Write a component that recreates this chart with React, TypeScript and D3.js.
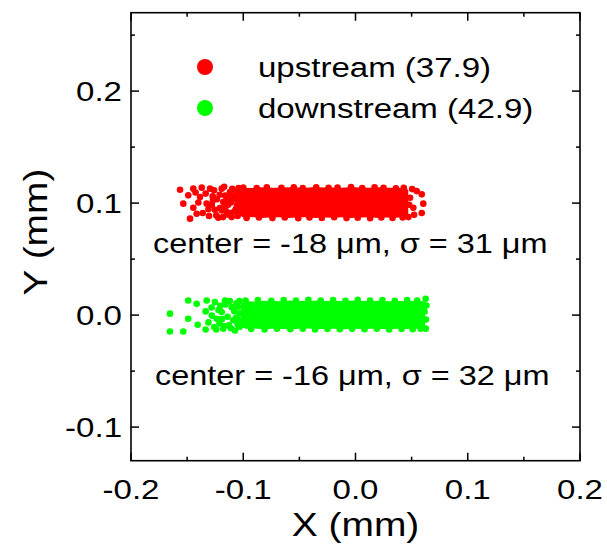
import * as d3 from "d3";

// ---- data (mm) ----
const xTicks = [-0.2, -0.1, 0.0, 0.1, 0.2];
const xMinor = [-0.15, -0.05, 0.05, 0.15];
const yTicks = [-0.1, 0.0, 0.1, 0.2];
const yMinor = [-0.05, 0.05, 0.15, 0.25];

const legendItems = ["upstream (37.9)", "downstream (42.9)"];
const notes = ["center = -18 \u03bcm, \u03c3 = 31 \u03bcm", "center = -16 \u03bcm, \u03c3 = 32 \u03bcm"];

// dense core of each cloud: outline
const upCoreX = [-0.104, -0.1, -0.092, -0.084, -0.076, -0.068, -0.06, -0.052, -0.044, -0.036, -0.028, -0.02, -0.012, -0.004, 0.004, 0.012, 0.02, 0.028, 0.036, 0.044, 0.047];
const upCoreTop = [0.1115, 0.1138, 0.1135, 0.1142, 0.1138, 0.1136, 0.1142, 0.114, 0.1137, 0.1143, 0.1139, 0.114, 0.1136, 0.1143, 0.1139, 0.1137, 0.1141, 0.1136, 0.1138, 0.1133, 0.112];
const upCoreBottom = [0.0895, 0.0872, 0.0875, 0.0868, 0.0872, 0.0874, 0.0867, 0.0871, 0.0873, 0.0866, 0.0871, 0.0869, 0.0874, 0.0867, 0.0871, 0.0873, 0.0868, 0.0872, 0.087, 0.0876, 0.0885];

const downCoreX = [-0.102, -0.098, -0.09, -0.082, -0.074, -0.066, -0.058, -0.05, -0.042, -0.034, -0.026, -0.018, -0.01, -0.002, 0.006, 0.014, 0.022, 0.03, 0.038, 0.046, 0.054, 0.062];
const downCoreTop = [0.0105, 0.0125, 0.0122, 0.0129, 0.0126, 0.0124, 0.013, 0.0127, 0.0125, 0.0131, 0.0127, 0.0128, 0.0124, 0.0131, 0.0127, 0.0125, 0.0129, 0.0124, 0.0127, 0.0125, 0.0128, 0.0124];
const downCoreBottom = [-0.0105, -0.0122, -0.0119, -0.0126, -0.0121, -0.0124, -0.0127, -0.0122, -0.012, -0.0126, -0.0123, -0.0121, -0.0126, -0.0122, -0.0125, -0.0121, -0.0124, -0.0127, -0.0122, -0.0124, -0.0121, -0.0123];

// individual points: sparse tails and the ragged edges
const upPoints: [number, number][] = [
  // left tail
  [-0.1563, 0.1119], [-0.1534, 0.0995], [-0.1474, 0.0861], [-0.149, 0.1069], [-0.1445, 0.1129],
  [-0.1445, 0.0959], [-0.1415, 0.0905], [-0.1385, 0.1054], [-0.137, 0.1138], [-0.1361, 0.0911],
  [-0.1326, 0.0995], [-0.1296, 0.1129], [-0.1272, 0.106], [-0.1252, 0.0941], [-0.1222, 0.087],
  [-0.1192, 0.1129], [-0.1178, 0.1009], [-0.1148, 0.092], [-0.1118, 0.1098], [-0.1103, 0.0875],
  [-0.1073, 0.1039], [-0.1065, 0.095], [-0.1305, 0.0885], [-0.1235, 0.1035], [-0.1208, 0.0955],
  [-0.1162, 0.1068], [-0.1135, 0.0985], [-0.1098, 0.1128], [-0.1122, 0.0912], [-0.1335, 0.1085],
  [-0.128, 0.0985], [-0.126, 0.1115], [-0.124, 0.089], [-0.121, 0.1075], [-0.119, 0.0935],
  [-0.117, 0.1145], [-0.115, 0.1025], [-0.113, 0.0895], [-0.111, 0.1005], [-0.109, 0.1065],
  [-0.108, 0.0925], [-0.106, 0.1105], [-0.112, 0.1045], [-0.118, 0.0875], [-0.127, 0.1025],
  [-0.131, 0.0945], [-0.116, 0.0965], [-0.14, 0.1005], [-0.1425, 0.1095],
  // left edge of the core
  [-0.105, 0.0885], [-0.1045, 0.0935], [-0.1055, 0.0985], [-0.104, 0.1035], [-0.1052, 0.1085], [-0.1042, 0.1135],
  // right tail
  [0.0545, 0.1107], [0.059, 0.1078], [0.0604, 0.0995], [0.059, 0.0911], [0.0515, 0.0959],
  [0.0486, 0.1048], [0.0471, 0.0875], [0.0505, 0.1125], [0.0522, 0.0895], [0.0478, 0.0985],
  // top edge
  [-0.1, 0.1138], [-0.088, 0.1135], [-0.079, 0.1141], [-0.066, 0.1136], [-0.055, 0.114],
  [-0.047, 0.1134], [-0.035, 0.1142], [-0.024, 0.1136], [-0.016, 0.1139], [-0.004, 0.1143],
  [0.006, 0.1134], [0.017, 0.114], [0.025, 0.1137], [0.036, 0.1133], [0.043, 0.1136],
  // bottom edge
  [-0.097, 0.0868], [-0.086, 0.0872], [-0.074, 0.0866], [-0.063, 0.0871], [-0.051, 0.0865],
  [-0.041, 0.0872], [-0.03, 0.0867], [-0.019, 0.0873], [-0.008, 0.0866], [0.002, 0.087],
  [0.013, 0.0865], [0.023, 0.0871], [0.033, 0.0867], [0.042, 0.0872],
];

const downPoints: [number, number][] = [
  // left tail
  [-0.1653, 0.0013], [-0.1653, -0.0146], [-0.149, 0.0131], [-0.149, -0.0032], [-0.1534, -0.0146],
  [-0.1415, 0.0102], [-0.1406, -0.0086], [-0.1326, 0.0131], [-0.1335, 0.0033], [-0.1335, -0.0128],
  [-0.1252, 0.0116], [-0.1237, -0.0032], [-0.1258, -0.0107], [-0.1163, 0.0131], [-0.1178, -0.0121],
  [-0.1103, 0.0071], [-0.1089, -0.0047], [-0.1073, -0.0137], [-0.1192, 0.0027], [-0.1282, 0.0068],
  [-0.1205, 0.0082], [-0.1128, -0.0092], [-0.1145, 0.0118], [-0.1212, -0.0075],
  [-0.128, -0.0005], [-0.122, 0.0045], [-0.119, -0.0035], [-0.116, 0.0095], [-0.114, -0.0015],
  [-0.112, 0.0125], [-0.111, -0.0118], [-0.108, 0.0035], [-0.106, 0.0105], [-0.105, -0.0085],
  [-0.117, -0.0098], [-0.124, -0.0128], [-0.131, -0.0065], [-0.1065, -0.0025],
  // left edge of the core
  [-0.1035, 0.0125], [-0.1045, 0.0075], [-0.103, 0.0015], [-0.1042, -0.0045], [-0.1032, -0.0105],
  // right end
  [0.0625, 0.0146], [0.0625, -0.0121], [0.0615, 0.003], [0.0628, -0.004], [0.0632, 0.0085],
  // top edge
  [-0.098, 0.013], [-0.087, 0.0134], [-0.075, 0.0128], [-0.064, 0.0135], [-0.053, 0.0129],
  [-0.042, 0.0136], [-0.031, 0.013], [-0.02, 0.0134], [-0.009, 0.0128], [0.002, 0.0136],
  [0.013, 0.0129], [0.024, 0.0134], [0.035, 0.0128], [0.046, 0.0135], [0.055, 0.013],
  // bottom edge
  [-0.093, -0.0124], [-0.081, -0.0128], [-0.07, -0.0122], [-0.058, -0.0127], [-0.047, -0.0121],
  [-0.036, -0.0128], [-0.025, -0.0123], [-0.014, -0.0127], [-0.003, -0.0121], [0.008, -0.0126],
  [0.019, -0.0122], [0.03, -0.0128], [0.041, -0.0123], [0.051, -0.0126], [0.058, -0.0121],
];

const RED = "#ff0000";
const GREEN = "#00ff00";
const FONT = "'Liberation Sans', Arial, sans-serif";
const SX = 1.18; // the original glyphs are a bit wider than Arial

const W = 607;
const H = 547;
const left = 131, right = 580, top = 12.7, bottom = 460.7;

const x = d3.scaleLinear().domain([-0.2, 0.2]).range([left, right]);
const y = d3.scaleLinear().domain([-0.13, 0.27]).range([bottom, top]);

function Txt({ x: tx, y: ty, size, anchor = "start", rotate = 0, children }: any) {
  return (
    <text
      transform={`translate(${tx},${ty}) rotate(${rotate}) scale(${SX},1)`}
      fontFamily={FONT}
      fontSize={size}
      textAnchor={anchor}
      fill="#000"
    >
      {children}
    </text>
  );
}

export default function App() {
  const coreArea = (xs: number[], t: number[], b: number[]) =>
    d3
      .area<number>()
      .x((_, i) => x(xs[i]))
      .y0((_, i) => y(b[i]))
      .y1((_, i) => y(t[i]))(xs) || "";

  const major = 8;
  const minor = 4;
  const r = 3.3;

  return (
    <svg width={W} height={H} style={{ position: "absolute", left: 0, top: 0, background: "#fff" }}>
      {/* clouds */}
      <path d={coreArea(upCoreX, upCoreTop, upCoreBottom)} fill={RED} />
      {upPoints.map(([px, py], i) => (
        <circle key={"u" + i} cx={x(px)} cy={y(py)} r={r} fill={RED} />
      ))}
      <path d={coreArea(downCoreX, downCoreTop, downCoreBottom)} fill={GREEN} />
      {downPoints.map(([px, py], i) => (
        <circle key={"d" + i} cx={x(px)} cy={y(py)} r={r} fill={GREEN} />
      ))}

      {/* frame */}
      <rect x={left} y={top} width={right - left} height={bottom - top} fill="none" stroke="#000" strokeWidth={1.6} />

      {/* ticks, inward on all four sides */}
      <g stroke="#000" strokeWidth={1.5}>
        {xTicks.concat(xMinor).map((t, i) => {
          const len = i < xTicks.length ? major : minor;
          return (
            <g key={"xt" + i}>
              <line x1={x(t)} x2={x(t)} y1={bottom} y2={bottom - len} />
              <line x1={x(t)} x2={x(t)} y1={top} y2={top + len} />
            </g>
          );
        })}
        {yTicks.concat(yMinor).map((t, i) => {
          const len = i < yTicks.length ? major : minor;
          return (
            <g key={"yt" + i}>
              <line x1={left} x2={left + len} y1={y(t)} y2={y(t)} />
              <line x1={right} x2={right - len} y1={y(t)} y2={y(t)} />
            </g>
          );
        })}
      </g>

      {/* tick labels */}
      {xTicks.map((t) => (
        <Txt key={"xl" + t} x={x(t)} y={499} size={28} anchor="middle">
          {d3.format(".1f")(t).replace("\u2212", "-")}
        </Txt>
      ))}
      {yTicks.map((t) => (
        <Txt key={"yl" + t} x={122} y={y(t) + 10} size={28} anchor="end">
          {d3.format(".1f")(t).replace("\u2212", "-")}
        </Txt>
      ))}

      {/* axis titles */}
      <Txt x={(left + right) / 2} y={536} size={33} anchor="middle">X (mm)</Txt>
      <Txt x={47} y={232} size={33} anchor="middle" rotate={-90}>Y (mm)</Txt>

      {/* legend */}
      {legendItems.map((label, i) => (
        <g key={label}>
          <circle cx={205} cy={67 + i * 41} r={8} fill={i === 0 ? RED : GREEN} />
          <Txt x={258} y={77 + i * 41} size={28}>{label}</Txt>
        </g>
      ))}

      {/* annotations */}
      <Txt x={153} y={253} size={27.5}>{notes[0]}</Txt>
      <Txt x={155} y={385} size={27.5}>{notes[1]}</Txt>
    </svg>
  );
}
